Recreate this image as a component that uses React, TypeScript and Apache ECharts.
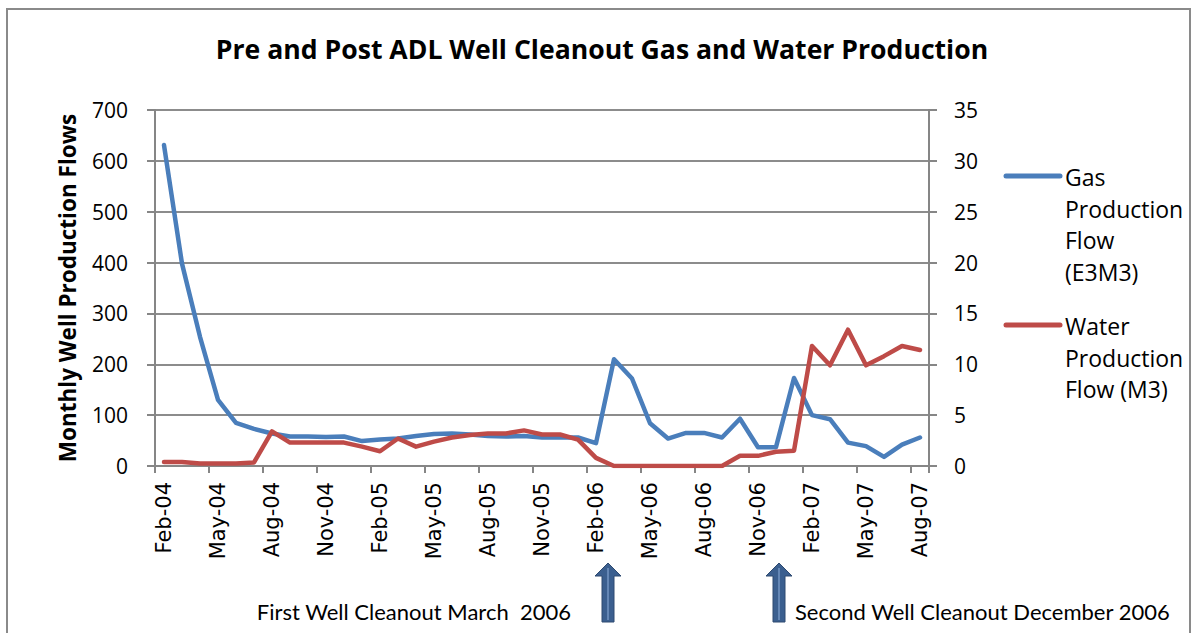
import React, { useEffect, useRef } from "react";
import * as echarts from "echarts";

const months: string[] = [
  "Feb-04", "Mar-04", "Apr-04", "May-04", "Jun-04", "Jul-04", "Aug-04", "Sep-04", "Oct-04", "Nov-04", "Dec-04",
  "Jan-05", "Feb-05", "Mar-05", "Apr-05", "May-05", "Jun-05", "Jul-05", "Aug-05", "Sep-05", "Oct-05", "Nov-05", "Dec-05",
  "Jan-06", "Feb-06", "Mar-06", "Apr-06", "May-06", "Jun-06", "Jul-06", "Aug-06", "Sep-06", "Oct-06", "Nov-06", "Dec-06",
  "Jan-07", "Feb-07", "Mar-07", "Apr-07", "May-07", "Jun-07", "Jul-07", "Aug-07",
];

const gasFlow: number[] = [
  631, 398, 254, 130, 85, 73, 64, 58, 58, 57, 58, 49, 52, 54, 59, 63,
  64, 62, 59, 58, 59, 56, 56, 56,
  45, 210, 172, 84, 54, 65, 65, 56, 93, 37, 37, 173, 100, 92, 46, 39, 18, 42, 56,
];

const waterFlow: number[] = [
  0.4, 0.4, 0.25, 0.25, 0.25, 0.35, 3.4, 2.3, 2.3, 2.3, 2.3, 1.9, 1.45, 2.7, 1.9, 2.4,
  2.8, 3.05, 3.2, 3.2, 3.5, 3.1, 3.1, 2.6,
  0.8, 0, 0, 0, 0, 0, 0, 0,
  1.0, 1.0, 1.4, 1.5, 11.8, 9.9, 13.4, 9.9, 10.8, 11.8, 11.4,
];

const leftTicks = { min: 0, max: 700, interval: 100 };
const rightTicks = { min: 0, max: 35, interval: 5 };

const titleText = "Pre and Post ADL Well Cleanout Gas and Water Production";
const yAxisTitle = "Monthly Well Production Flows";
const gasLegend = ["Gas", "Production", "Flow", "(E3M3)"];
const waterLegend = ["Water", "Production", "Flow (M3)"];
const note1 = "First Well Cleanout March  2006";
const note2 = "Second Well Cleanout December 2006";

const BLUE = "#4a7ebb";
const RED = "#be4b48";
const GRAY = "#868686";
const ARROW = "#3b5f8f";

function arrow(cx: number) {
  return [
    {
      type: "polygon",
      shape: {
        points: [
          [cx, 563], [cx + 13, 576], [cx + 6, 576], [cx + 6, 622],
          [cx - 6, 622], [cx - 6, 576], [cx - 13, 576],
        ],
      },
      style: { fill: ARROW, stroke: "#2e4a70", lineWidth: 1 },
    },
    {
      type: "line",
      shape: { x1: cx, y1: 568, x2: cx, y2: 620 },
      style: { stroke: "#8fb0dc", lineWidth: 1 },
    },
  ];
}

export default function App() {
  const ref = useRef<HTMLDivElement>(null);
  useEffect(() => {
    if (!ref.current) return;
    const chart = echarts.init(ref.current, null, { renderer: "svg" });
    const legendFont = { fontFamily: "Open Sans", fontSize: 23, fill: "#000" };
    const graphics: any[] = [
      {
        type: "rect",
        shape: { x: 7, y: 9, width: 1183, height: 640 },
        style: { fill: "none", stroke: "#8a8a8a", lineWidth: 2 },
        silent: true,
      },
      {
        type: "line",
        shape: { x1: 1006, y1: 176, x2: 1060, y2: 176 },
        style: { stroke: BLUE, lineWidth: 5, lineCap: "round" },
      },
      {
        type: "line",
        shape: { x1: 1006, y1: 325, x2: 1060, y2: 325 },
        style: { stroke: RED, lineWidth: 5, lineCap: "round" },
      },
      ...gasLegend.map((t, i) => ({
        type: "text",
        x: 1065,
        y: 177 + i * 31.5,
        style: { ...legendFont, text: t, verticalAlign: "middle" },
      })),
      ...waterLegend.map((t, i) => ({
        type: "text",
        x: 1065,
        y: 326 + i * 31.5,
        style: { ...legendFont, text: t, verticalAlign: "middle" },
      })),
      {
        type: "text",
        x: 571,
        y: 611,
        style: {
          text: note1,
          align: "right",
          verticalAlign: "middle",
          fontFamily: "Lato",
          fontSize: 22,
          fill: "#000",
        },
      },
      {
        type: "text",
        x: 795,
        y: 611,
        style: {
          text: note2,
          align: "left",
          verticalAlign: "middle",
          fontFamily: "Lato",
          fontSize: 22,
          fill: "#000",
        },
      },
      ...arrow(608),
      ...arrow(779),
    ];

    chart.setOption({
      animation: false,
      backgroundColor: "#fff",
      title: {
        text: titleText,
        left: 597,
        top: 30,
        textAlign: "center",
        textStyle: { fontFamily: "Open Sans", fontWeight: "bold", fontSize: 26.6, color: "#000" },
      },
      grid: { left: 155, right: 267, top: 110, bottom: 167, containLabel: false },
      xAxis: {
        type: "category",
        data: months,
        boundaryGap: true,
        axisLine: { show: true, lineStyle: { color: GRAY, width: 2 } },
        axisTick: { show: true, interval: 2, length: 7, lineStyle: { color: GRAY, width: 2 } },
        axisLabel: {
          interval: 2,
          rotate: 90,
          margin: 16,
          fontFamily: "DejaVu Sans",
          fontSize: 21,
          color: "#000",
        },
        splitLine: { show: false },
      },
      yAxis: [
        {
          type: "value",
          ...leftTicks,
          name: yAxisTitle,
          nameLocation: "middle",
          nameGap: 76,
          nameRotate: 90,
          nameTextStyle: { fontFamily: "Open Sans", fontWeight: "bold", fontSize: 22.5, color: "#000" },
          axisLine: { show: true, lineStyle: { color: GRAY, width: 2 } },
          axisTick: { show: true, length: 8, lineStyle: { color: GRAY, width: 2 } },
          axisLabel: { margin: 27, fontFamily: "Open Sans", fontSize: 21, color: "#000" },
          splitLine: { show: true, lineStyle: { color: "#8c8c8c", width: 2 } },
        },
        {
          type: "value",
          ...rightTicks,
          position: "right",
          axisLine: { show: true, lineStyle: { color: GRAY, width: 2 } },
          axisTick: { show: true, length: 8, lineStyle: { color: GRAY, width: 2 } },
          axisLabel: { margin: 25, fontFamily: "Open Sans", fontSize: 21, color: "#000" },
          splitLine: { show: false },
        },
      ],
      series: [
        {
          name: "Gas Production Flow (E3M3)",
          type: "line",
          data: gasFlow,
          yAxisIndex: 0,
          showSymbol: false,
          symbol: "none",
          lineStyle: { color: BLUE, width: 4.5, cap: "round", join: "round" },
          itemStyle: { color: BLUE },
          z: 3,
        },
        {
          name: "Water Production Flow (M3)",
          type: "line",
          data: waterFlow,
          yAxisIndex: 1,
          showSymbol: false,
          symbol: "none",
          lineStyle: { color: RED, width: 4.5, cap: "round", join: "round" },
          itemStyle: { color: RED },
          z: 4,
        },
      ],
      graphic: graphics,
    });
    return () => chart.dispose();
  }, []);
  return (
    <div
      ref={ref}
      style={{ position: "absolute", left: 0, top: 0, width: 1196, height: 633 }}
    />
  );
}
